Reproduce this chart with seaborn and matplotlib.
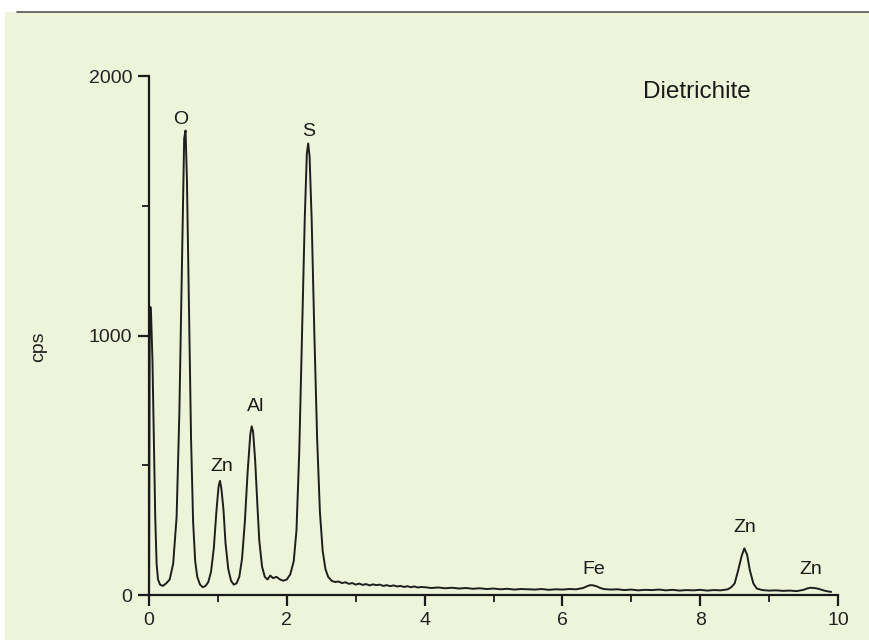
import matplotlib
matplotlib.use("Agg")
import matplotlib.pyplot as plt
import seaborn as sns
import pandas as pd
from matplotlib.lines import Line2D
from matplotlib.patches import Rectangle

# EDS spectrum (energy in keV, counts per second)
energy = [
    0.00, 0.01, 0.02, 0.03, 0.05, 0.07, 0.09, 0.11, 0.13, 0.16, 0.20, 0.25,
    0.30, 0.35, 0.40, 0.44, 0.48, 0.51, 0.53, 0.55, 0.58, 0.61, 0.64, 0.67,
    0.70, 0.74, 0.78, 0.82, 0.86, 0.90, 0.94, 0.98, 1.01, 1.03, 1.05, 1.08,
    1.11, 1.15, 1.19, 1.23, 1.27, 1.31, 1.35, 1.39, 1.43, 1.47, 1.49, 1.51,
    1.54, 1.57, 1.60, 1.64, 1.68, 1.72, 1.76, 1.80, 1.85, 1.90, 1.95, 2.00,
    2.05, 2.10, 2.14, 2.18, 2.22, 2.26, 2.29, 2.31, 2.33, 2.36, 2.40, 2.44,
    2.48, 2.52, 2.56, 2.60, 2.65, 2.70, 2.75, 2.80, 2.85, 2.90, 2.95, 3.00,
    3.05, 3.10, 3.15, 3.20, 3.25, 3.30, 3.35, 3.40, 3.45, 3.50, 3.55, 3.60,
    3.65, 3.70, 3.75, 3.80, 3.85, 3.90, 3.95, 4.00, 4.10, 4.20, 4.30, 4.40,
    4.50, 4.60, 4.70, 4.80, 4.90, 5.00, 5.10, 5.20, 5.30, 5.40, 5.50, 5.60,
    5.70, 5.80, 5.90, 6.00, 6.10, 6.20, 6.30, 6.35, 6.40, 6.45, 6.50, 6.55,
    6.60, 6.70, 6.80, 6.90, 7.00, 7.10, 7.20, 7.30, 7.40, 7.50, 7.60, 7.70,
    7.80, 7.90, 8.00, 8.10, 8.20, 8.30, 8.40, 8.45, 8.50, 8.55, 8.60, 8.64,
    8.68, 8.72, 8.77, 8.82, 8.90, 9.00, 9.10, 9.20, 9.30, 9.40, 9.50, 9.55,
    9.60, 9.65, 9.70, 9.75, 9.80, 9.85, 9.90,
]
counts = [
    0, 1050, 1110, 1080, 900, 600, 300, 120, 60, 40, 35, 45,
    60, 120, 300, 700, 1300, 1760, 1790, 1600, 1100, 600, 280, 130,
    70, 40, 30, 35, 50, 90, 180, 330, 420, 440, 410, 330,
    200, 100, 55, 40, 45, 70, 140, 280, 470, 620, 650, 630,
    520, 360, 210, 110, 70, 60, 75, 65, 70, 60, 55, 60,
    80, 130, 250, 550, 1000, 1450, 1700, 1740, 1690, 1450, 1000, 600,
    320, 170, 100, 70, 55, 50, 52, 46, 49, 43, 46, 40,
    44, 39, 42, 37, 41, 38, 40, 35, 38, 34, 37, 33,
    35, 31, 34, 30, 33, 29, 31, 30, 27, 29, 26, 28,
    25, 27, 24, 26, 23, 25, 22, 24, 21, 23, 22, 21,
    23, 20, 22, 21, 23, 22, 27, 33, 38, 37, 33, 27,
    23, 21, 22, 19, 21, 18, 20, 19, 21, 18, 20, 17,
    19, 18, 20, 17, 19, 18, 22, 30, 45, 95, 150, 180,
    155, 95, 45, 25, 19, 17, 18, 16, 17, 15, 20, 25,
    28, 27, 25, 21, 17, 14, 12,
]

peak_labels = ["O", "S", "Al", "Zn", "Fe", "Zn", "Zn"]
label_x = [0.46, 2.31, 1.55, 1.06, 6.46, 8.64, 9.61]
label_y = [1834, 1788, 725, 495, 100, 262, 100]

bg = "#eef4da"

sns.set_theme(style="ticks")
plt.rcParams["font.family"] = ["Liberation Sans", "DejaVu Sans"]

fig = plt.figure(figsize=(8.69, 6.4), dpi=100, facecolor="white")
# scanned page area with its top edge
fig.add_artist(Rectangle((0.006, 0), 0.994, 1 - 12 / 640, transform=fig.transFigure,
                         facecolor=bg, edgecolor="none", zorder=-5))
fig.add_artist(Line2D([0.02, 1.0], [1 - 12 / 640, 1 - 12 / 640], transform=fig.transFigure,
                      color="#555555", lw=1.2))

ax = fig.add_axes([0.1715, 0.0703, 0.7929, 0.8109])
ax.set_facecolor("none")

df = pd.DataFrame({"Energy": energy, "cps": counts})
sns.lineplot(data=df, x="Energy", y="cps", ax=ax, color="#1e1e1e", lw=1.4)

ax.set_xlim(0, 10)
ax.set_ylim(0, 2000)
ax.set_xticks([0, 2, 4, 6, 8, 10])
ax.set_xticks([1, 3, 5, 7, 9], minor=True)
ax.set_yticks([0, 1000, 2000])
ax.set_yticks([500, 1500], minor=True)
ax.set_xlabel("")
ax.set_ylabel("cps", fontsize=14, color="#222222")
ax.yaxis.set_label_coords(-0.148, 0.478)

sns.despine(ax=ax)
for s in ["left", "bottom"]:
    ax.spines[s].set_linewidth(1.6)
    ax.spines[s].set_color("#1a1a1a")
ax.tick_params(which="major", direction="out", length=8, width=1.6, color="#1a1a1a",
               labelsize=14, labelcolor="#222222", pad=4)
ax.tick_params(which="minor", direction="out", length=5, width=1.3, color="#1a1a1a")

for lab, lx, ly in zip(peak_labels, label_x, label_y):
    ax.text(lx, ly, lab, ha="center", va="center", fontsize=14, color="#1a1a1a")

ax.text(7.95, 1938, "Dietrichite", ha="center", va="center", fontsize=17.5, color="#1a1a1a")

fig.savefig("out.png", dpi=100, facecolor=fig.get_facecolor())
